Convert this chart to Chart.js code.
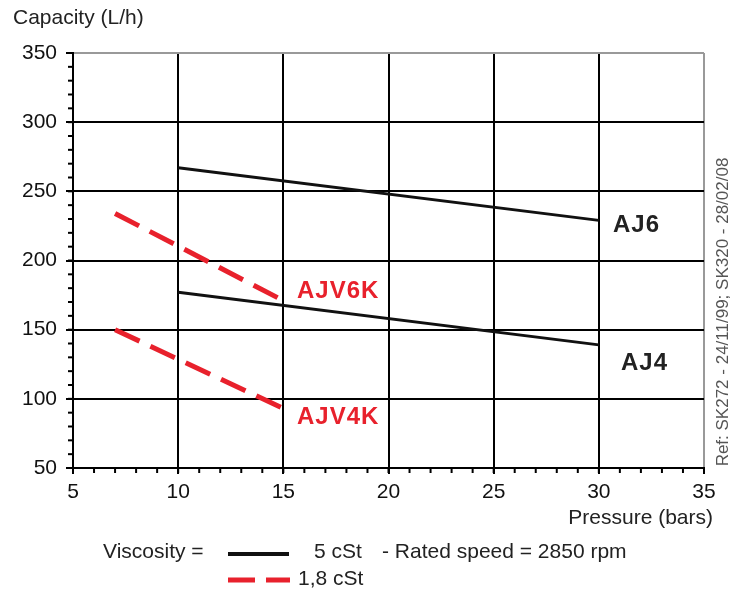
<!DOCTYPE html>
<html>
<head>
<meta charset="utf-8">
<script src="https://cdn.jsdelivr.net/npm/chart.js@4/dist/chart.umd.min.js"></script>
<style>
  html, body { margin: 0; padding: 0; background: #fff; }
  #wrap { width: 735px; height: 592px; }
</style>
</head>
<body>
<div id="wrap"><canvas id="chart" width="735" height="592"></canvas></div>
<script>
// data
const pressureAJ = [10, 30];
const capacityAJ6 = [267, 229];
const capacityAJ4 = [177, 139];
const pressureAJV = [7, 15];
const capacityAJV6K = [234, 171];
const capacityAJV4K = [150, 93];

const xTicks = [5, 10, 15, 20, 25, 30, 35];
const yTicks = [50, 100, 150, 200, 250, 300, 350];

const RED = '#e8212c';
const FONT = '"Liberation Sans", Arial, sans-serif';

function pts(xs, ys) {
    return xs.map((x, i) => ({ x: x, y: ys[i] }));
}

// minor ticks, curve labels, axis titles, legend
const extras = {
    id: 'extras',
    afterDraw(chart) {
        const ctx = chart.ctx;
        const xs = chart.scales.x, ys = chart.scales.y;
        const a = chart.chartArea;
        ctx.save();
        ctx.strokeStyle = '#000';
        ctx.lineWidth = 2;
        for (let v = 5; v <= 35; v++) {
            const px = xs.getPixelForValue(v);
            ctx.beginPath(); ctx.moveTo(px, a.bottom); ctx.lineTo(px, a.bottom + 5); ctx.stroke();
        }
        for (let v = 50; v <= 350; v += 10) {
            const py = ys.getPixelForValue(v);
            ctx.beginPath(); ctx.moveTo(a.left, py); ctx.lineTo(a.left - 5, py); ctx.stroke();
        }

        // curve labels
        ctx.font = 'bold 24px ' + FONT;
        ctx.letterSpacing = '1px';
        ctx.textBaseline = 'middle';
        ctx.textAlign = 'left';
        ctx.fillStyle = '#222';
        ctx.fillText('AJ6', 613, 225);
        ctx.fillText('AJ4', 621, 363);
        ctx.fillStyle = RED;
        ctx.fillText('AJV6K', 297, 291);
        ctx.fillText('AJV4K', 297, 417);
        ctx.letterSpacing = '0px';

        // axis titles
        ctx.fillStyle = '#222';
        ctx.font = '21px ' + FONT;
        ctx.textAlign = 'left';
        ctx.fillText('Capacity (L/h)', 13, 18);
        ctx.textAlign = 'right';
        ctx.fillText('Pressure (bars)', 713, 518);

        // reference text
        ctx.save();
        ctx.translate(723, 312);
        ctx.rotate(-Math.PI / 2);
        ctx.textAlign = 'center';
        ctx.fillStyle = '#555';
        ctx.font = '17px ' + FONT;
        ctx.fillText('Ref: SK272 - 24/11/99; SK320 - 28/02/08', 0, 0);
        ctx.restore();

        // legend
        ctx.font = '21px ' + FONT;
        ctx.textAlign = 'left';
        ctx.fillStyle = '#222';
        ctx.fillText('Viscosity =', 103, 552);
        ctx.fillText('5 cSt', 314, 552);
        ctx.fillText('- Rated speed = 2850 rpm', 382, 552);
        ctx.fillText('1,8 cSt', 298, 579);
        ctx.lineWidth = 4;
        ctx.strokeStyle = '#111';
        ctx.beginPath(); ctx.moveTo(228, 554); ctx.lineTo(289, 554); ctx.stroke();
        ctx.strokeStyle = RED;
        ctx.lineWidth = 5;
        ctx.setLineDash([27, 11]);
        ctx.beginPath(); ctx.moveTo(228, 580); ctx.lineTo(290, 580); ctx.stroke();
        ctx.restore();
    }
};

new Chart(document.getElementById('chart').getContext('2d'), {
    type: 'line',
    data: {
        datasets: [
            { label: 'AJ6', data: pts(pressureAJ, capacityAJ6), borderColor: '#111', borderWidth: 3 },
            { label: 'AJ4', data: pts(pressureAJ, capacityAJ4), borderColor: '#111', borderWidth: 3 },
            { label: 'AJV6K', data: pts(pressureAJV, capacityAJV6K), borderColor: RED, borderWidth: 5, borderDash: [27, 12] },
            { label: 'AJV4K', data: pts(pressureAJV, capacityAJV4K), borderColor: RED, borderWidth: 5, borderDash: [27, 12] }
        ]
    },
    options: {
        responsive: false,
        animation: false,
        devicePixelRatio: 1,
        layout: { padding: { left: 0, right: 31, top: 53, bottom: 0 } },
        elements: { point: { radius: 0 }, line: { tension: 0 } },
        plugins: { legend: { display: false }, tooltip: { enabled: false } },
        scales: {
            x: {
                type: 'linear',
                min: 5, max: 35,
                afterFit: s => { s.height = 124; },
                afterBuildTicks: s => { s.ticks = xTicks.map(v => ({ value: v })); },
                grid: {
                    color: c => c.tick && c.tick.value === 35 ? '#999' : '#000',
                    lineWidth: 2,
                    tickLength: 6,
                    tickColor: '#000'
                },
                border: { color: '#000', width: 2 },
                ticks: { color: '#111', font: { family: FONT, size: 21 }, padding: 6, maxRotation: 0 }
            },
            y: {
                min: 50, max: 350,
                afterFit: s => { s.width = 73; },
                afterBuildTicks: s => { s.ticks = yTicks.map(v => ({ value: v })); },
                grid: {
                    color: c => c.tick && c.tick.value === 350 ? '#999' : '#000',
                    lineWidth: 2,
                    tickLength: 7,
                    tickColor: '#000'
                },
                border: { color: '#000', width: 2 },
                ticks: { color: '#111', font: { family: FONT, size: 21 }, padding: 9 }
            }
        }
    },
    plugins: [extras]
});
</script>
</body>
</html>
